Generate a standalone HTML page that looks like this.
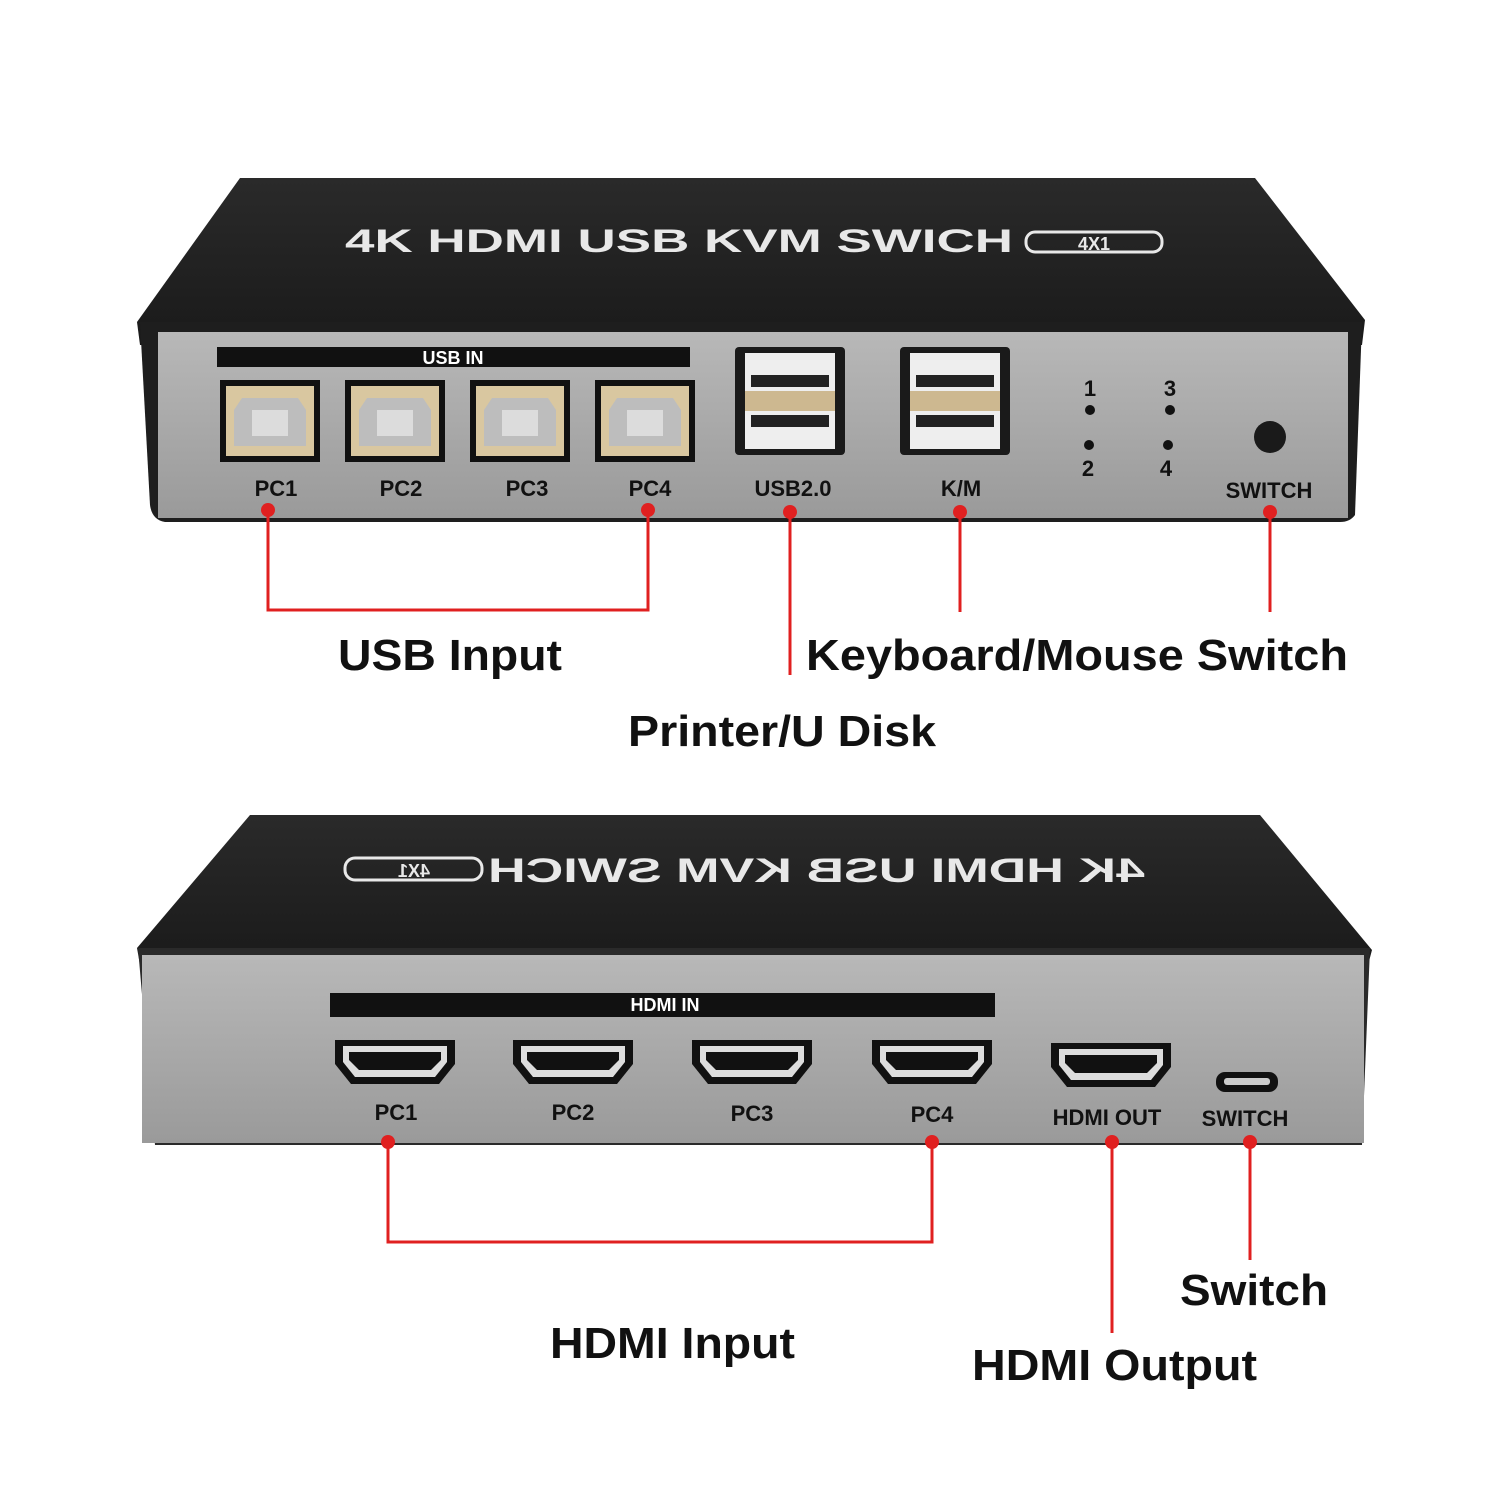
<!DOCTYPE html>
<html><head><meta charset="utf-8"><style>body{margin:0;background:#fff}svg{display:block}</style></head><body>
<svg width="1500" height="1500" viewBox="0 0 1500 1500" xmlns="http://www.w3.org/2000/svg" font-family="Liberation Sans, sans-serif">
<defs>
<linearGradient id="top" x1="0" y1="0" x2="0" y2="1"><stop offset="0" stop-color="#2a2a2a"/><stop offset="1" stop-color="#1a1a1a"/></linearGradient>
<linearGradient id="pan" x1="0" y1="0" x2="0" y2="1"><stop offset="0" stop-color="#b8b8b8"/><stop offset="1" stop-color="#9a9a9a"/></linearGradient>
<g id="usbb"><rect x="0" y="0" width="100" height="82" fill="#111"/><rect x="6" y="6" width="88" height="70" fill="#d9c7a0"/><path d="M22 18 H78 L86 30 V66 H14 V30 Z" fill="#bdbdbd"/><rect x="32" y="30" width="36" height="26" fill="#dcdcdc"/></g>
<g id="usba"><rect x="0" y="0" width="110" height="108" fill="#1a1a1a" rx="4"/><rect x="10" y="6" width="90" height="38" fill="#eee"/><rect x="10" y="44" width="90" height="20" fill="#cdb890"/><rect x="10" y="64" width="90" height="38" fill="#eee"/><rect x="16" y="28" width="78" height="12" fill="#222"/><rect x="16" y="68" width="78" height="12" fill="#222"/></g>
<g id="hdmi"><path d="M0 0 H120 V24 L104 44 H16 L0 24 Z" fill="#111"/><path d="M8 6 H112 V22 L100 37 H20 L8 22 Z" fill="#ddd"/><path d="M14 12 H106 V20 L96 30 H24 L14 20 Z" fill="#111"/></g>
</defs>
<!-- TOP DEVICE -->
<path d="M240 178 H1255 L1365 320 L1362 345 H140 L137 322 Z" fill="url(#top)"/>
<path d="M140 322 H1362 L1355 515 Q1350 522 1340 522 H165 Q152 520 150 505 Z" fill="#1e1e1e"/>
<rect x="158" y="332" width="1190" height="186" fill="url(#pan)"/>
<text x="345" y="252" fill="#e8e8e8" font-size="32" font-weight="bold" textLength="668" lengthAdjust="spacingAndGlyphs">4K HDMI USB KVM SWICH</text>
<rect x="1026" y="232" width="136" height="20" rx="9" fill="none" stroke="#e8e8e8" stroke-width="3"/>
<text x="1094" y="250" fill="#e8e8e8" font-size="18" font-weight="bold" text-anchor="middle">4X1</text>
<rect x="217" y="347" width="473" height="20" fill="#111"/>
<text x="453" y="364" fill="#fff" font-size="18" font-weight="bold" text-anchor="middle">USB IN</text>
<use href="#usbb" x="220" y="380"/><use href="#usbb" x="345" y="380"/><use href="#usbb" x="470" y="380"/><use href="#usbb" x="595" y="380"/>
<use href="#usba" x="735" y="347"/><use href="#usba" x="900" y="347"/>
<g fill="#111" font-size="22" font-weight="bold" text-anchor="middle">
<text x="1090" y="396">1</text><text x="1170" y="396">3</text><text x="1088" y="476">2</text><text x="1166" y="476">4</text>
<text x="276" y="496">PC1</text><text x="401" y="496">PC2</text><text x="527" y="496">PC3</text><text x="650" y="496">PC4</text>
<text x="793" y="496">USB2.0</text><text x="961" y="496">K/M</text><text x="1269" y="498">SWITCH</text>
</g>
<circle cx="1090" cy="410" r="5" fill="#111"/><circle cx="1170" cy="410" r="5" fill="#111"/><circle cx="1089" cy="445" r="5" fill="#111"/><circle cx="1168" cy="445" r="5" fill="#111"/>
<circle cx="1270" cy="437" r="16" fill="#1a1a1a"/>
<g stroke="#e02020" stroke-width="3" fill="none">
<path d="M268 510 V610 H648 V510"/><path d="M790 510 V675"/><path d="M960 510 V612"/><path d="M1270 510 V612"/>
</g>
<g fill="#e02020"><circle cx="268" cy="510" r="7"/><circle cx="648" cy="510" r="7"/><circle cx="790" cy="512" r="7"/><circle cx="960" cy="512" r="7"/><circle cx="1270" cy="512" r="7"/></g>
<g fill="#111" font-size="44" font-weight="bold" lengthAdjust="spacingAndGlyphs">
<text x="338" y="670" textLength="224" lengthAdjust="spacingAndGlyphs">USB Input</text>
<text x="806" y="670" textLength="542" lengthAdjust="spacingAndGlyphs">Keyboard/Mouse Switch</text>
<text x="628" y="746" textLength="308" lengthAdjust="spacingAndGlyphs">Printer/U Disk</text>
</g>
<!-- BOTTOM DEVICE -->
<path d="M250 815 H1260 L1372 950 L1368 965 H140 L137 948 Z" fill="url(#top)"/>
<path d="M138 948 H1370 L1362 1145 H155 Z" fill="#2a2a2a"/>
<rect x="142" y="955" width="1222" height="188" fill="url(#pan)"/>
<g transform="translate(1500 0) scale(-1 1)">
<text x="355" y="882" fill="#e8e8e8" font-size="34" font-weight="bold" textLength="657" lengthAdjust="spacingAndGlyphs">4K HDMI USB KVM SWICH</text>
<rect x="1018" y="858" width="137" height="22" rx="10" fill="none" stroke="#e8e8e8" stroke-width="3"/>
<text x="1086" y="877" fill="#e8e8e8" font-size="18" font-weight="bold" text-anchor="middle">4X1</text>
</g>
<rect x="330" y="993" width="665" height="24" fill="#111"/>
<text x="665" y="1011" fill="#fff" font-size="18" font-weight="bold" text-anchor="middle">HDMI IN</text>
<use href="#hdmi" x="335" y="1040"/><use href="#hdmi" x="513" y="1040"/><use href="#hdmi" x="692" y="1040"/><use href="#hdmi" x="872" y="1040"/><use href="#hdmi" x="1051" y="1043"/>
<rect x="1216" y="1072" width="62" height="20" rx="9" fill="#111"/><rect x="1224" y="1078" width="46" height="7" rx="3" fill="#ccc"/>
<g fill="#111" font-size="22" font-weight="bold" text-anchor="middle">
<text x="396" y="1120">PC1</text><text x="573" y="1120">PC2</text><text x="752" y="1121">PC3</text><text x="932" y="1122">PC4</text>
<text x="1107" y="1125">HDMI OUT</text><text x="1245" y="1126">SWITCH</text>
</g>
<g stroke="#e02020" stroke-width="3" fill="none">
<path d="M388 1142 V1242 H932 V1142"/><path d="M1112 1142 V1333"/><path d="M1250 1142 V1260"/>
</g>
<g fill="#e02020"><circle cx="388" cy="1142" r="7"/><circle cx="932" cy="1142" r="7"/><circle cx="1112" cy="1142" r="7"/><circle cx="1250" cy="1142" r="7"/></g>
<g fill="#111" font-size="44" font-weight="bold">
<text x="550" y="1358" textLength="245" lengthAdjust="spacingAndGlyphs">HDMI Input</text>
<text x="1180" y="1305" textLength="148" lengthAdjust="spacingAndGlyphs">Switch</text>
<text x="972" y="1380" textLength="285" lengthAdjust="spacingAndGlyphs">HDMI Output</text>
</g>
</svg>
</body></html>
